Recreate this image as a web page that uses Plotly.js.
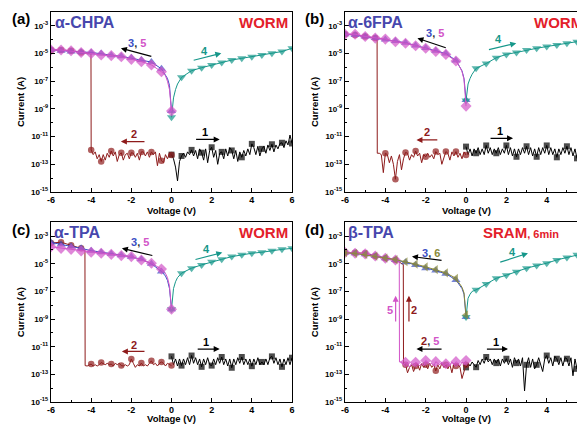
<!DOCTYPE html>
<html><head><meta charset="utf-8">
<script src="https://cdn.plot.ly/plotly-3.0.1.min.js"></script>
<style>html,body{margin:0;padding:0;background:#fff}#chart{width:577px;height:424px}</style>
</head><body><div id="chart"></div>
<script>
// ---------- shared voltage grids ----------
const VP = [0,0.1,0.2,0.3,0.4,0.5,0.6,0.7,0.8,0.9,1,1.1,1.2,1.3,1.4,1.5,1.6,1.7,1.8,1.9,2,2.1,2.2,2.3,2.4,2.5,2.6,2.7,2.8,2.9,3,3.1,3.2,3.3,3.4,3.5,3.6,3.7,3.8,3.9,4,4.1,4.2,4.3,4.4,4.5,4.6,4.7,4.8,4.9,5,5.1,5.2,5.3,5.4,5.5,5.6,5.7,5.8,5.9,6];
const SP = [0,0.05,0.1,0.2,0.3,0.5,1,1.5,2,2.5,3,3.5,4,4.5,5,5.5,6];
const SN = [0,-0.05,-0.1,-0.2,-0.3,-0.5,-1,-1.5,-2,-2.5,-3,-3.5,-4,-4.5,-5,-5.5,-6];

// ---------- panel (a) alpha-CHPA ----------
const a_I1 = [5.0e-13,2.5e-13,6.3e-14,6.3e-15,1.6e-13,4.0e-13,6.3e-13,3.2e-13,7.9e-13,5.0e-13,
 1.1e-12,4.0e-13,1.0e-12,2.5e-13,1.3e-12,6.9e-13,2.0e-13,1.3e-12,1.3e-13,1.0e-12,
 1.7e-12,3.2e-13,1.0e-12,1.0e-13,6.3e-13,7.9e-13,2.5e-13,1.3e-12,4.0e-13,1.6e-12,
 1.0e-12,2.5e-13,1.0e-12,1.6e-13,7.9e-13,3.2e-13,1.0e-12,4.0e-13,1.3e-12,5.0e-13,
 3.0e-12,1.6e-12,5.0e-13,2.0e-12,4.0e-13,1.3e-12,2.0e-12,6.3e-13,2.5e-12,1.0e-12,
 2.8e-12,7.9e-13,2.5e-12,1.3e-12,3.2e-12,3.6e-12,1.6e-12,5.0e-12,2.5e-12,1.3e-11,3.2e-12];
const a_V2 = [0,-0.1,-0.2,-0.3,-0.4,-0.5,-0.6,-0.7,-0.8,-0.9,-1,-1.1,-1.2,-1.3,-1.4,-1.5,-1.6,-1.7,-1.8,-1.9,-2,-2.1,-2.2,-2.3,-2.4,-2.5,-2.6,-2.7,-2.8,-2.9,-3,-3.1,-3.2,-3.3,-3.4,-3.5,-3.6,-3.7,-3.8,-3.9,-4,-4.01,-4.5,-5,-5.5,-6];
const a_I2 = [4.7e-13,6.3e-13,2.5e-13,5.0e-13,1.3e-13,1.8e-13,6.3e-13,7.9e-14,7.9e-13,5.0e-13,
 7.9e-13,3.2e-13,7.9e-13,4.0e-13,7.9e-13,7.9e-13,2.0e-13,6.3e-13,3.2e-13,6.3e-13,
 6.9e-13,2.5e-13,6.3e-13,5.0e-13,2.0e-13,6.9e-13,5.0e-13,1.6e-13,7.9e-13,4.0e-13,
 9.1e-13,3.2e-13,6.3e-13,2.0e-13,5.0e-13,1.6e-13,5.0e-13,2.5e-13,7.9e-13,5.0e-13,
 1.1e-12,1.0e-5,1.2e-5,1.6e-5,1.8e-5,1.8e-5];
const a_I3 = [7.1e-10,1.3e-8,5.0e-8,1.6e-7,2.8e-7,7.9e-7,2.4e-6,3.4e-6,5.0e-6,6.3e-6,7.6e-6,1.0e-5,1.2e-5,1.3e-5,1.4e-5,1.6e-5,1.9e-5];
const a_I4 = [2.5e-10,2.5e-9,6.3e-9,2.5e-8,6.3e-8,1.9e-7,5.8e-7,9.5e-7,1.5e-6,2.3e-6,3.4e-6,4.5e-6,5.9e-6,7.9e-6,1.05e-5,1.4e-5,2.4e-5];
const a_I5 = [7.1e-10,6.3e-9,2.5e-8,1.0e-7,2.5e-7,4.9e-7,1.5e-6,2.6e-6,3.8e-6,5.9e-6,7.1e-6,7.8e-6,1.0e-5,1.2e-5,1.6e-5,1.8e-5,1.8e-5];

// ---------- panel (b) alpha-6FPA ----------
const b_I1 = [1.9e-12,5.0e-13,1.3e-12,4.0e-13,1.3e-12,6.3e-13,1.6e-12,5.0e-13,1.3e-12,5.0e-13,
 2.3e-12,6.3e-13,1.6e-12,5.0e-13,1.3e-12,6.3e-13,1.6e-12,5.0e-13,1.3e-12,6.3e-13,
 2.3e-12,5.0e-13,1.6e-12,4.0e-13,1.3e-12,3.5e-13,1.3e-12,5.0e-13,1.6e-12,6.3e-13,
 2.0e-12,5.0e-13,1.6e-12,4.0e-13,1.3e-12,3.5e-13,1.6e-12,5.0e-13,1.6e-12,6.3e-13,
 2.3e-12,5.0e-13,1.6e-12,5.0e-13,1.3e-12,3.2e-13,1.3e-12,5.0e-13,1.6e-12,6.3e-13,
 2.0e-12,5.0e-13,1.6e-12,4.0e-13,1.3e-12,2.7e-13,1.3e-12,5.0e-13,1.6e-12,5.0e-13,1.6e-12];
const b_V2 = [0,-0.1,-0.2,-0.3,-0.4,-0.5,-0.6,-0.7,-0.8,-0.9,-1,-1.1,-1.2,-1.3,-1.4,-1.5,-1.6,-1.7,-1.8,-1.9,-2,-2.1,-2.2,-2.3,-2.4,-2.5,-2.6,-2.7,-2.8,-2.9,-3,-3.1,-3.2,-3.3,-3.4,-3.5,-3.6,-3.7,-3.8,-3.9,-4,-4.1,-4.2,-4.3,-4.4,-4.41,-4.5,-5,-5.5,-6];
const b_I2 = [4.7e-13,7.9e-13,2.5e-13,6.3e-13,3.2e-13,8.3e-13,4.0e-13,7.9e-13,2.0e-13,6.3e-13,
 8.3e-13,3.2e-13,1.0e-13,6.3e-13,5.0e-13,8.3e-13,2.5e-13,5.0e-13,3.2e-13,6.3e-13,
 3.5e-13,5.0e-13,1.3e-13,6.3e-13,4.0e-13,9.1e-13,3.2e-13,5.0e-13,2.0e-13,6.3e-13,
 7.2e-13,2.5e-13,4.0e-14,5.0e-13,1.6e-13,8.3e-15,1.0e-13,4.0e-13,1.3e-13,5.0e-13,
 6.3e-13,2.5e-14,5.0e-13,6.3e-13,6.3e-13,
 1.3e-4,1.3e-4,1.7e-4,2.2e-4,2.5e-4];
const b_I3 = [4.5e-9,5.0e-8,1.6e-7,5.6e-7,1.1e-6,3.2e-6,1.0e-5,1.6e-5,2.5e-5,3.8e-5,6.0e-5,7.9e-5,1.05e-4,1.3e-4,1.7e-4,2.2e-4,2.5e-4];
const b_I4 = [4.0e-9,2.5e-8,6.3e-8,1.6e-7,3.2e-7,8.5e-7,1.9e-6,5.0e-6,8.7e-6,1.2e-5,1.8e-5,2.4e-5,3.2e-5,4.2e-5,5.5e-5,7.2e-5,9.5e-5];
const b_I5 = [1.6e-9,2.5e-8,1.3e-7,5.0e-7,1.0e-6,2.9e-6,8.7e-6,1.4e-5,2.4e-5,3.7e-5,5.5e-5,7.2e-5,1.1e-4,1.3e-4,1.7e-4,2.5e-4,2.5e-4];

// ---------- panel (c) alpha-TPA ----------
const c_I1 = [2.0e-12,5.0e-13,1.3e-12,4.0e-13,1.3e-12,4.3e-13,1.3e-12,5.0e-13,1.6e-12,5.0e-13,
 2.3e-12,6.3e-13,1.6e-12,5.0e-13,1.3e-12,3.5e-13,1.3e-12,5.0e-13,1.6e-12,5.0e-13,
 4.3e-13,1.3e-12,5.0e-13,1.6e-12,6.3e-13,1.8e-12,5.0e-13,1.3e-12,4.0e-13,1.3e-12,
 3.0e-13,1.3e-12,5.0e-13,1.6e-12,6.3e-13,1.8e-12,5.0e-13,1.3e-12,5.0e-13,1.3e-12,
 3.9e-13,1.3e-12,5.0e-13,1.6e-12,5.0e-13,7.9e-13,5.0e-13,1.3e-12,5.0e-13,1.6e-12,
 2.0e-12,6.3e-13,1.6e-12,5.0e-13,1.3e-12,3.5e-13,1.3e-12,5.0e-13,1.6e-12,5.0e-13,1.6e-12];
const c_V2 = [0,-0.1,-0.2,-0.3,-0.4,-0.5,-0.6,-0.7,-0.8,-0.9,-1,-1.1,-1.2,-1.3,-1.4,-1.5,-1.6,-1.7,-1.8,-1.9,-2,-2.1,-2.2,-2.3,-2.4,-2.5,-2.6,-2.7,-2.8,-2.9,-3,-3.1,-3.2,-3.3,-3.4,-3.5,-3.6,-3.7,-3.8,-3.9,-4,-4.1,-4.2,-4.3,-4.31,-4.5,-5,-5.5,-6];
const c_I2 = [4.3e-13,5.0e-13,6.3e-13,4.0e-13,6.3e-13,7.8e-13,6.3e-13,4.0e-13,6.3e-13,5.0e-13,
 9.5e-13,6.3e-13,4.0e-13,5.0e-13,4.0e-13,6.5e-13,4.0e-13,5.0e-13,3.2e-13,6.3e-13,
 1.3e-12,5.0e-13,4.0e-13,5.0e-13,4.0e-13,4.3e-13,6.3e-13,5.0e-13,6.3e-13,4.0e-13,
 5.6e-13,5.0e-13,6.3e-13,5.0e-13,6.3e-13,7.2e-13,5.0e-13,4.0e-13,5.0e-13,4.0e-13,
 5.6e-13,5.0e-13,4.0e-13,4.3e-13,
 8.5e-5,1.3e-4,2.2e-4,3.6e-4,3.2e-4];
const c_I3 = [5.2e-9,4.0e-8,1.6e-7,6.3e-7,1.3e-6,2.8e-6,1.0e-5,2.1e-5,3.2e-5,4.2e-5,5.4e-5,6.8e-5,8.9e-5,1.3e-4,1.8e-4,2.5e-4,3.5e-4];
const c_I4 = [5.2e-9,5.0e-8,1.6e-7,5.0e-7,1.0e-6,2.1e-6,4.8e-6,8.3e-6,1.4e-5,2.1e-5,3.3e-5,4.4e-5,5.8e-5,6.8e-5,8.9e-5,1.1e-4,1.3e-4];
const c_I5 = [5.2e-9,6.3e-8,2.5e-7,1.0e-6,2.0e-6,4.1e-6,1.1e-5,1.9e-5,3.3e-5,3.9e-5,4.8e-5,5.8e-5,6.8e-5,8.5e-5,1.1e-4,1.3e-4,1.7e-4];

// ---------- panel (d) beta-TPA ----------
const d_I1 = [3.2e-13,6.3e-13,4.0e-13,7.9e-13,5.0e-13,3.3e-13,1.0e-12,5.0e-13,1.3e-12,6.3e-13,
 1.8e-12,7.9e-13,1.3e-12,5.0e-13,1.3e-12,6.5e-13,1.3e-12,4.0e-13,1.3e-12,6.3e-13,
 1.35e-12,5.0e-13,1.3e-12,3.2e-13,1.6e-12,6.5e-13,1.3e-12,4.0e-13,1.6e-12,6.3e-15,
 4.9e-13,1.6e-12,3.2e-13,1.3e-12,2.5e-13,4.9e-13,1.6e-12,5.0e-13,1.6e-13,1.3e-12,
 2.3e-12,6.3e-13,1.6e-12,4.0e-13,2.0e-12,1.35e-12,5.0e-13,1.6e-12,4.0e-13,1.6e-12,
 1.35e-12,4.0e-13,1.6e-12,7.9e-14,1.3e-12,2.5e-13,1.6e-12,5.0e-13,1.6e-12,6.3e-13,1.3e-12];
const d_V2 = [0,-0.1,-0.2,-0.3,-0.4,-0.5,-0.6,-0.7,-0.8,-0.9,-1,-1.1,-1.2,-1.3,-1.4,-1.5,-1.6,-1.7,-1.8,-1.9,-2,-2.1,-2.2,-2.3,-2.4,-2.5,-2.6,-2.7,-2.8,-2.9,-3,-3.1,-3.11,-3.5,-4,-4.5,-5,-5.5,-6];
const d_I2 = [5.0e-13,1.3e-13,5.0e-14,3.2e-13,6.3e-13,4.0e-13,6.3e-13,1.3e-13,5.0e-13,2.5e-13,
 5.0e-13,3.2e-13,6.3e-13,2.5e-13,5.0e-13,1.8e-13,5.0e-13,3.2e-13,6.3e-13,2.5e-13,
 5.0e-13,3.2e-13,6.3e-13,2.0e-13,5.0e-13,4.0e-13,1.6e-13,5.0e-13,3.2e-13,1.3e-13,
 5.0e-13,6.3e-13,
 8.9e-6,1.9e-5,2.5e-5,3.7e-5,5.8e-5,6.3e-5,6.5e-5];
const d_V5 = [0,-0.1,-0.2,-0.3,-0.4,-0.5,-0.6,-0.7,-0.8,-0.9,-1,-1.1,-1.2,-1.3,-1.4,-1.5,-1.6,-1.7,-1.8,-1.9,-2,-2.1,-2.2,-2.3,-2.4,-2.5,-2.6,-2.7,-2.8,-2.9,-3,-3.1,-3.2,-3.3,-3.31,-3.5,-4,-4.5,-5,-5.5,-6];
const d_I5 = [1.0e-12,5.0e-13,7.9e-13,4.0e-13,6.3e-13,8.3e-13,5.0e-13,7.9e-13,4.0e-13,6.3e-13,
 5.8e-13,4.0e-13,7.9e-13,5.0e-13,6.3e-13,8.3e-13,4.0e-13,6.3e-13,5.0e-13,7.9e-13,
 1.0e-12,4.0e-13,6.3e-13,4.0e-13,6.3e-13,7.4e-13,4.0e-13,6.3e-13,3.2e-13,6.3e-13,
 7.4e-13,5.0e-13,7.9e-13,7.9e-13,
 1.6e-5,1.9e-5,2.5e-5,3.7e-5,5.2e-5,5.8e-5,6.5e-5];
const d_I3 = [1.4e-9,2.0e-8,6.3e-8,1.6e-7,2.8e-7,6.8e-7,1.9e-6,3.2e-6,4.8e-6,8.3e-6,1.3e-5,1.9e-5,2.5e-5,3.7e-5,4.9e-5,5.8e-5,6.5e-5];
const d_I4 = [1.4e-9,1.3e-8,3.2e-8,6.3e-8,1.0e-7,1.3e-7,3.5e-7,8.9e-7,1.5e-6,2.7e-6,4.8e-6,7.4e-6,1.1e-5,1.9e-5,2.8e-5,4.4e-5,6.3e-5];
const d_I6 = [2.0e-9,2.5e-8,7.9e-8,2.0e-7,3.5e-7,8.9e-7,2.2e-6,3.8e-6,6.0e-6,9.5e-6,1.4e-5,2.0e-5,2.6e-5,3.5e-5,4.7e-5,5.6e-5,6.3e-5];

// ---------- axis ticks ----------
const xTicks = [-6,-4,-2,0,2,4,6];
const xTickText = ['-6','-4','-2','0','2','4','6'];
const yTicks = [1e-15,1e-13,1e-11,1e-9,1e-7,1e-5,1e-3];
const yTickText = ['10<sup>-15</sup>','10<sup>-13</sup>','10<sup>-11</sup>','10<sup>-9</sup>','10<sup>-7</sup>','10<sup>-5</sup>','10<sup>-3</sup>'];

// ---------- styles ----------
const FONT = 'Arial, "Liberation Sans", sans-serif';
const C = {k:'#000000', r:'#8e1b1b', b:'#3b4fc4', t:'#16978a', m:'#d254c8', o:'#8a8a3a', title:'#4747ad', worm:'#e3202a'};
const onGrid = v => Math.abs(v*2 - Math.round(v*2)) < 1e-6;

function tr(xs, ys, color, symbol, size, n) {
  return {x: xs, y: ys, xaxis: 'x'+(n===1?'':n), yaxis: 'y'+(n===1?'':n),
    mode: 'lines+markers', line: {color: color, width: 1},
    marker: {color: color, symbol: symbol, size: xs.map(v => onGrid(v) ? size : 0), line: {width: 0}},
    hoverinfo: 'skip', showlegend: false};
}

const data = [
  tr(VP, a_I1, C.k, 'square', 6, 1), tr(a_V2, a_I2, C.r, 'circle', 6.5, 1),
  tr(SN, a_I3, C.b, 'triangle-up', 8, 1), tr(SP, a_I4, C.t, 'triangle-down', 8, 1), tr(SN, a_I5, C.m, 'diamond', 8.5, 1),

  tr(VP, b_I1, C.k, 'square', 6, 2), tr(b_V2, b_I2, C.r, 'circle', 6.5, 2),
  tr(SN, b_I3, C.b, 'triangle-up', 8, 2), tr(SP, b_I4, C.t, 'triangle-down', 8, 2), tr(SN, b_I5, C.m, 'diamond', 8.5, 2),

  tr(VP, c_I1, C.k, 'square', 6, 3), tr(c_V2, c_I2, C.r, 'circle', 6.5, 3),
  tr(SN, c_I3, C.b, 'triangle-up', 8, 3), tr(SP, c_I4, C.t, 'triangle-down', 8, 3), tr(SN, c_I5, C.m, 'diamond', 8.5, 3),

  tr(VP, d_I1, C.k, 'square', 6, 4), tr(d_V2, d_I2, C.r, 'circle', 6.5, 4),
  tr(SN, d_I3, C.b, 'triangle-up', 8, 4), tr(SP, d_I4, C.t, 'triangle-down', 8, 4),
  tr(d_V5, d_I5, C.m, 'diamond', 8.5, 4), tr(SN, d_I6, C.o, 'triangle-left', 8, 4)
];

const W = 577, H = 424;
const px = x => x / W, py = y => (H - y) / H;

function xax(l, r, range, anchor) {
  return {domain: [px(l), Math.min(1, px(r))], range: range, anchor: anchor,
    tickmode: 'array', tickvals: xTicks, ticktext: xTickText,
    ticks: 'inside', ticklen: 4, tickwidth: 1, tickcolor: '#000', ticklabelstandoff: -1,
    minor: {tickmode: 'array', tickvals: [-5,-3,-1,1,3,5], ticks: 'inside', ticklen: 2, tickcolor: '#000'},
    showline: true, linecolor: '#000', linewidth: 1.3, mirror: true,
    showgrid: false, zeroline: false,
    tickfont: {family: FONT, size: 9, color: '#000', weight: 'bold'}};
}
function yax(t, b, anchor, mirror) {
  return {domain: [py(b), py(t)], type: 'log', range: [-15, -2], anchor: anchor,
    tickmode: 'array', tickvals: yTicks, ticktext: yTickText,
    ticks: 'inside', ticklen: 4, tickwidth: 1, tickcolor: '#000',
    minor: {tickmode: 'array', tickvals: [1e-14,1e-12,1e-10,1e-8,1e-6,1e-4], ticks: 'inside', ticklen: 2, tickcolor: '#000'},
    showline: true, linecolor: '#000', linewidth: 1.3, mirror: mirror,
    showgrid: false, zeroline: false,
    tickfont: {family: FONT, size: 8, color: '#000', weight: 'bold'},
    title: {text: 'Current (A)', font: {family: FONT, size: 9.5, color: '#000', weight: 'bold'}, standoff: 4}};
}

const layout = {
  width: W, height: H, margin: {l: 0, r: 0, t: 0, b: 0},
  paper_bgcolor: '#fff', plot_bgcolor: '#fff', showlegend: false,
  font: {family: FONT},
  xaxis:  xax(51, 292, [-6, 6], 'y'),
  yaxis:  yax(12, 192, 'x', true),
  xaxis2: xax(345, 577, [-6, 5.5], 'y2'),
  yaxis2: yax(12, 192, 'x2', false),
  xaxis3: xax(51, 292, [-6, 6], 'y3'),
  yaxis3: yax(222.3, 402, 'x3', true),
  xaxis4: xax(345, 577, [-6, 5.5], 'y4'),
  yaxis4: yax(222.3, 402, 'x4', false),
  annotations: []
};

const A = layout.annotations;
function txt(x, y, text, size, color, anchor) {
  A.push({xref: 'paper', yref: 'paper', x: px(x), y: py(y), text: text, showarrow: false,
    xanchor: anchor || 'left', yanchor: 'middle', borderpad: 0,
    font: {family: FONT, size: size, color: color, weight: 'bold'}});
}
function lab(n, x, y, text, color) {
  const s = n === 1 ? '' : n;
  A.push({xref: 'x'+s, yref: 'y'+s, x: x, y: y, text: text, showarrow: false,
    xanchor: 'center', yanchor: 'middle', font: {family: FONT, size: 11, color: color, weight: 'bold'}});
}
function arr(n, x0, y0, x1, y1, color) {
  const s = n === 1 ? '' : n;
  A.push({xref: 'x'+s, yref: 'y'+s, axref: 'x'+s, ayref: 'y'+s, x: x1, y: y1, ax: x0, ay: y0,
    text: '', showarrow: true, arrowhead: 2, arrowsize: 1, arrowwidth: 1.2, arrowcolor: color, standoff: 0, startstandoff: 0});
}
const c35 = (a, b, ca, cb) => `<span style="color:${ca}">${a}</span><span style="color:#333">, </span><span style="color:${cb}">${b}</span>`;

// x-axis titles
txt(171.5, 210.5, 'Voltage (V)', 9.5, '#000', 'center');
txt(466, 210.5, 'Voltage (V)', 9.5, '#000', 'center');
txt(171.5, 418.3, 'Voltage (V)', 9.5, '#000', 'center');
txt(466, 418.3, 'Voltage (V)', 9.5, '#000', 'center');

// panel titles
txt(11, 18, '(a)', 15, '#000'); txt(54, 22, 'α-CHPA', 16, C.title); txt(289, 22, 'WORM', 15, C.worm, 'right');
txt(304, 18, '(b)', 15, '#000'); txt(347, 22, 'α-6FPA', 16, C.title); txt(533, 22, 'WORM', 15, C.worm);
txt(11, 229, '(c)', 15, '#000'); txt(53, 232, 'α-TPA', 16, C.title); txt(289, 232, 'WORM', 15, C.worm, 'right');
txt(304, 229, '(d)', 15, '#000'); txt(347, 232, 'β-TPA', 16, C.title);
txt(482, 232, 'SRAM<span style="font-size:11px">, 6min</span>', 15, C.worm);

// panel (a) sweep labels
lab(1, -1.72, -4.26, c35('3','5',C.b,C.m), '#000'); arr(1, -0.93, -5.23, -2.52, -4.62, '#000');
lab(1, 1.65, -4.79, '4', C.t); arr(1, 1.03, -5.51, 2.48, -4.98, C.t);
lab(1, -1.85, -10.83, '2', C.r); arr(1, -1.27, -11.36, -2.52, -11.36, C.r);
lab(1, 1.68, -10.64, '1', '#000'); arr(1, 1.15, -11.2, 2.4, -11.2, '#000');
// panel (b)
lab(2, -1.52, -3.54, c35('3','5',C.b,C.m), '#000'); arr(2, -0.93, -4.62, -2.41, -3.90, '#000');
lab(2, 1.62, -3.95, '4', C.t); arr(2, 1.06, -4.74, 2.49, -4.26, C.t);
lab(2, -1.92, -10.64, '2', C.r); arr(2, -1.35, -11.24, -2.46, -11.24, C.r);
lab(2, 1.67, -10.59, '1', '#000'); arr(2, 1.14, -11.12, 2.33, -11.12, '#000');
// panel (c)
lab(3, -1.55, -3.44, c35('3','5',C.b,C.m), '#000'); arr(3, -0.88, -4.43, -2.47, -3.88, '#000');
lab(3, 1.73, -3.93, '4', C.t); arr(3, 1.12, -4.72, 2.53, -4.19, C.t);
lab(3, -1.85, -10.86, '2', C.r); arr(3, -1.27, -11.34, -2.47, -11.34, C.r);
lab(3, 1.73, -10.66, '1', '#000'); arr(3, 1.23, -11.17, 2.4, -11.17, '#000');
// panel (d)
lab(4, -1.75, -4.24, c35('3','6',C.b,C.o), '#000'); arr(4, -1.14, -4.77, -2.68, -4.48, '#000');
lab(4, 2.28, -4.12, '4', C.t); arr(4, 1.62, -4.92, 3.07, -4.24, C.t);
lab(4, -3.78, -8.33, '5', C.m); arr(4, -3.49, -9.29, -3.49, -7.32, C.m);
lab(4, -2.58, -8.33, '2', C.r); arr(4, -2.83, -9.29, -2.83, -7.32, C.r);
lab(4, -1.8, -10.62, c35('2','5',C.r,C.m), '#000'); arr(4, -1.14, -11.17, -2.46, -11.17, '#000');
lab(4, 1.5, -10.66, '1', '#000'); arr(4, 0.96, -11.17, 2.08, -11.17, '#000');

Plotly.newPlot('chart', data, layout, {staticPlot: true, displayModeBar: false});
</script>
</body></html>
